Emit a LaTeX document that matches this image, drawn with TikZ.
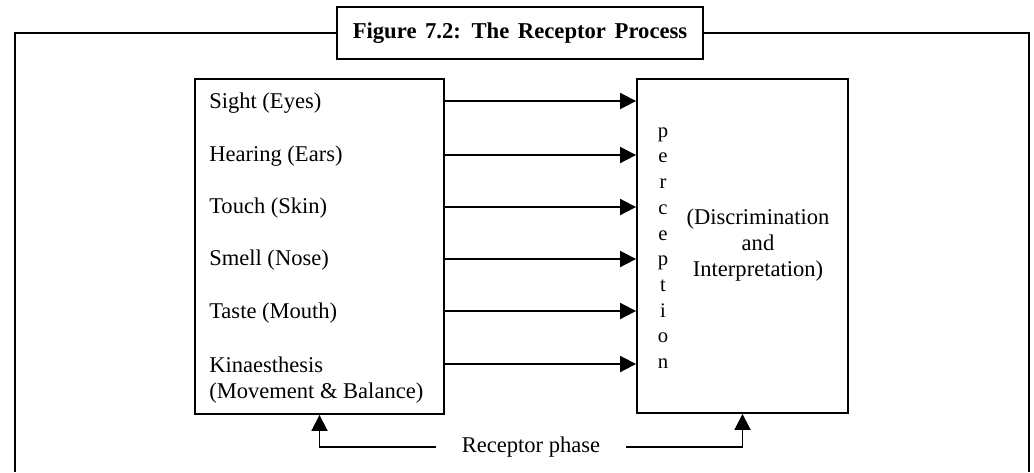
\documentclass[tikz,border=0pt]{standalone}
\usepackage{fontspec}
\setmainfont{Liberation Serif}
\usetikzlibrary{arrows.meta}
\begin{document}
\begin{tikzpicture}[x=0.75pt,y=-0.75pt,
  box/.style={draw, line width=1.4pt, inner sep=0pt},
  txt/.style={inner sep=0pt, font=\fontsize{16.9}{19.5}\selectfont},
  lbl/.style={txt, anchor=west, align=left},
  arr/.style={line width=1.4pt, -{Triangle[length=12pt,width=12pt]}},
  frame/.style={line width=2pt}]
\useasboundingbox (0,0) rectangle (1034,472);
% boxes
\node[box, minimum width=186.75pt, minimum height=251.25pt] (L) at (319.5,246.5) {};
\node[box, minimum width=158.25pt, minimum height=250.5pt] (R) at (742.5,246) {};
\node[box, line width=1.6pt, minimum width=274.5pt, minimum height=39pt,
      font=\bfseries\fontsize{17}{20}\selectfont] (T) at (520,33) {\spaceskip=0.38em\relax Figure 7.2: The Receptor Process};
% outer frame
\draw[frame] (T.west) -| (15,472);
\draw[frame] (T.east) -| (1029,472);
% labels
\node[lbl] (s1) at (209,103) {Sight (Eyes)};
\node[lbl] (s2) at (209,156) {Hearing (Ears)};
\node[lbl] (s3) at (209,208) {Touch (Skin)};
\node[lbl] (s4) at (209,260) {Smell (Nose)};
\node[lbl] (s5) at (209,313) {Taste (Mouth)};
\node[lbl] (s6) at (209,380) {Kinaesthesis\\(Movement \& Balance)};
% arrow levels
\coordinate (y1) at (0,101);
\coordinate (y2) at (0,155);
\coordinate (y3) at (0,207);
\coordinate (y4) at (0,259);
\coordinate (y5) at (0,311);
\coordinate (y6) at (0,364);
\foreach \i in {1,...,6}
  \draw[arr] (L.east |- y\i) -- (R.west |- y\i);
% right box texts
\node[txt, align=center, font=\fontsize{15.5}{19.3}\selectfont] (perc) at (663,248) {p\\e\\r\\c\\e\\p\\t\\i\\o\\n};
\node[txt, align=center] (disc) at (758,245) {(Discrimination\\and\\Interpretation)};
% receptor phase
\node[txt, inner xsep=19.5pt] (rp) at (531,447) {Receptor phase};
\draw[arr] (rp.west) -| (L.south);
\draw[arr] (rp.east) -| (R.south);
\end{tikzpicture}
\end{document}
